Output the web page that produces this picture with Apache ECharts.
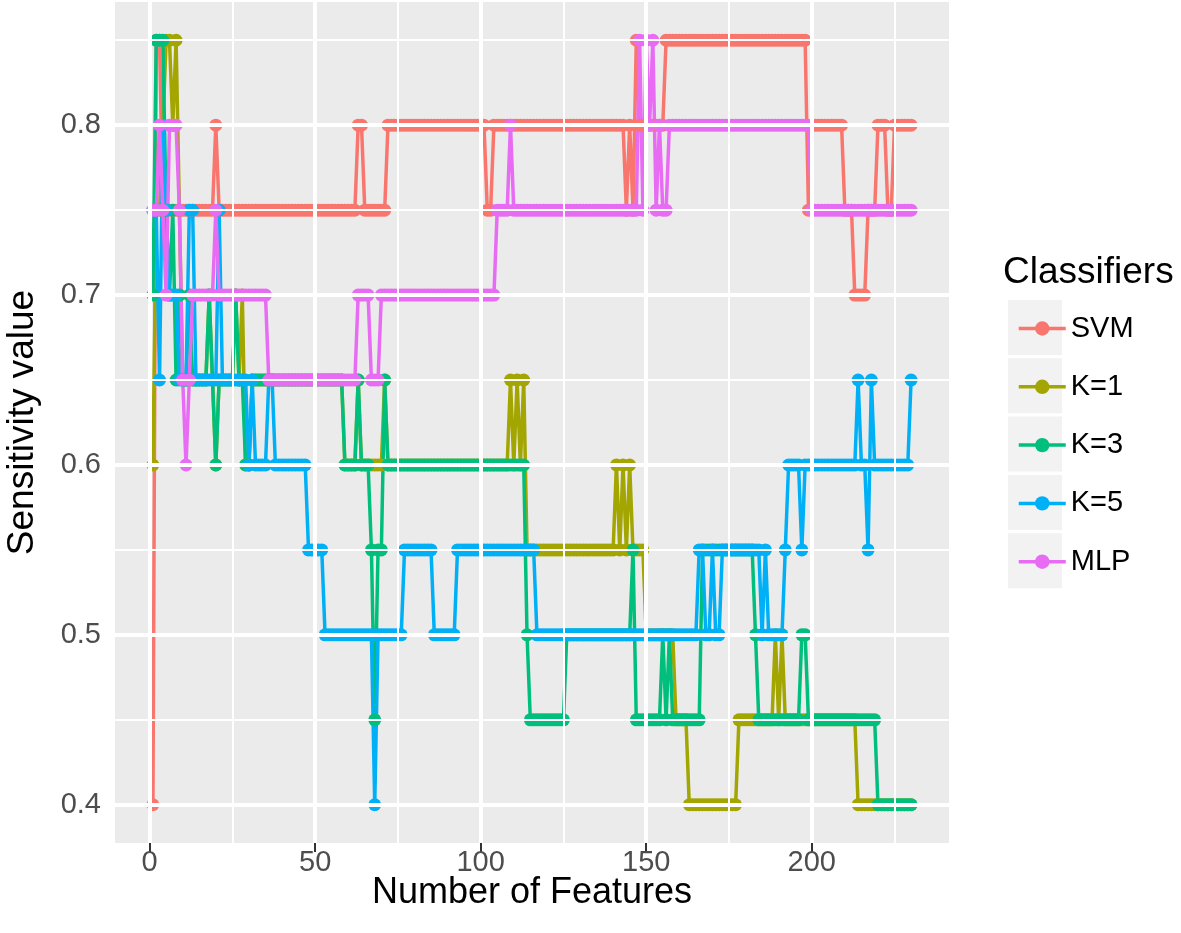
<!DOCTYPE html>
<html>
<head>
<meta charset="utf-8">
<script src="https://cdn.jsdelivr.net/npm/echarts@6/dist/echarts.min.js"></script>
<style>
html,body{margin:0;padding:0;background:#fff;}
#chart{width:1181px;height:933px;}
</style>
</head>
<body>
<div id="chart"></div>
<script>
// ---- data ----
const seriesNames = ['SVM', 'K=1', 'K=3', 'K=5', 'MLP'];
const seriesColors = ['#F8766D', '#A3A500', '#00BF7D', '#00B0F6', '#E76BF3'];
const xTicks = [0, 50, 100, 150, 200];
const yTicks = [0.4, 0.5, 0.6, 0.7, 0.8];
const xMinor = [25, 75, 125, 175, 225];
const yMinor = [0.45, 0.55, 0.65, 0.75, 0.85];

const svm = [
0.4,0.85,0.85,0.75,0.75,0.75,0.75,0.75,0.75,0.75,
0.75,0.75,0.75,0.75,0.75,0.75,0.75,0.75,0.75,0.8,
0.75,0.75,0.75,0.75,0.75,0.75,0.75,0.75,0.75,0.75,
0.75,0.75,0.75,0.75,0.75,0.75,0.75,0.75,0.75,0.75,
0.75,0.75,0.75,0.75,0.75,0.75,0.75,0.75,0.75,0.75,
0.75,0.75,0.75,0.75,0.75,0.75,0.75,0.75,0.75,0.75,
0.75,0.75,0.8,0.8,0.75,0.75,0.75,0.75,0.75,0.75,
0.75,0.8,0.8,0.8,0.8,0.8,0.8,0.8,0.8,0.8,
0.8,0.8,0.8,0.8,0.8,0.8,0.8,0.8,0.8,0.8,
0.8,0.8,0.8,0.8,0.8,0.8,0.8,0.8,0.8,0.8,
0.8,0.75,0.75,0.8,0.8,0.8,0.8,0.8,0.8,0.8,
0.8,0.8,0.8,0.8,0.8,0.8,0.8,0.8,0.8,0.8,
0.8,0.8,0.8,0.8,0.8,0.8,0.8,0.8,0.8,0.8,
0.8,0.8,0.8,0.8,0.8,0.8,0.8,0.8,0.8,0.8,
0.8,0.8,0.8,0.75,0.8,0.75,0.85,0.8,0.8,0.8,
0.8,0.8,0.8,0.8,0.8,0.85,0.85,0.85,0.85,0.85,
0.85,0.85,0.85,0.85,0.85,0.85,0.85,0.85,0.85,0.85,
0.85,0.85,0.85,0.85,0.85,0.85,0.85,0.85,0.85,0.85,
0.85,0.85,0.85,0.85,0.85,0.85,0.85,0.85,0.85,0.85,
0.85,0.85,0.85,0.85,0.85,0.85,0.85,0.85,0.75,0.8,
0.8,0.8,0.8,0.8,0.8,0.8,0.8,0.8,0.8,0.75,
0.75,0.75,0.7,0.7,0.7,0.7,0.75,0.75,0.75,0.8,
0.8,0.8,0.75,0.75,0.8,0.8,0.8,0.8,0.8,0.8
];

const k1 = [
0.6,0.75,0.75,0.8,0.85,0.85,0.8,0.85,0.75,0.65,
0.65,0.65,0.65,0.65,0.65,0.65,0.65,0.7,0.65,0.6,
0.65,0.65,0.65,0.65,0.65,0.7,0.65,0.7,0.6,0.6,
0.65,0.65,0.65,0.65,0.65,0.65,0.65,0.65,0.65,0.65,
0.65,0.65,0.65,0.65,0.65,0.65,0.65,0.65,0.65,0.65,
0.65,0.65,0.65,0.65,0.65,0.65,0.65,0.65,0.6,0.6,
0.6,0.6,0.65,0.6,0.6,0.6,0.6,0.6,0.6,0.6,
0.65,0.6,0.6,0.6,0.6,0.6,0.6,0.6,0.6,0.6,
0.6,0.6,0.6,0.6,0.6,0.6,0.6,0.6,0.6,0.6,
0.6,0.6,0.6,0.6,0.6,0.6,0.6,0.6,0.6,0.6,
0.6,0.6,0.6,0.6,0.6,0.6,0.6,0.6,0.65,0.6,
0.65,0.6,0.65,0.55,0.55,0.55,0.55,0.55,0.55,0.55,
0.55,0.55,0.55,0.55,0.55,0.55,0.55,0.55,0.55,0.55,
0.55,0.55,0.55,0.55,0.55,0.55,0.55,0.55,0.55,0.55,
0.6,0.55,0.6,0.55,0.6,0.55,0.55,0.55,0.55,0.5,
0.5,0.5,0.5,0.5,0.5,0.5,0.5,0.5,0.45,0.45,
0.45,0.45,0.4,0.4,0.4,0.4,0.4,0.4,0.4,0.4,
0.4,0.4,0.4,0.4,0.4,0.4,0.4,0.45,0.45,0.45,
0.45,0.45,0.45,0.45,0.45,0.45,0.45,0.45,0.5,0.45,
0.5,0.45,0.45,0.45,0.45,0.45,0.45,0.45,0.45,0.45,
0.45,0.45,0.45,0.45,0.45,0.45,0.45,0.45,0.45,0.45,
0.45,0.45,0.45,0.4,0.4,0.4,0.4,0.4,0.4,0.4,
0.4,0.4,0.4,0.4,0.4,0.4,0.4,0.4,0.4,0.4
];

const k3 = [
0.7,0.85,0.85,0.85,0.75,0.7,0.75,0.65,0.7,0.65,
0.65,0.7,0.65,0.65,0.65,0.65,0.65,0.7,0.65,0.6,
0.65,0.65,0.65,0.65,0.65,0.7,0.65,0.65,0.6,0.6,
0.65,0.65,0.65,0.65,0.65,0.65,0.65,0.65,0.65,0.65,
0.65,0.65,0.65,0.65,0.65,0.65,0.65,0.65,0.65,0.65,
0.65,0.65,0.65,0.65,0.65,0.65,0.65,0.65,0.6,0.6,
0.6,0.6,0.65,0.6,0.6,0.6,0.55,0.45,0.55,0.55,
0.65,0.6,0.6,0.6,0.6,0.6,0.6,0.6,0.6,0.6,
0.6,0.6,0.6,0.6,0.6,0.6,0.6,0.6,0.6,0.6,
0.6,0.6,0.6,0.6,0.6,0.6,0.6,0.6,0.6,0.6,
0.6,0.6,0.6,0.6,0.6,0.6,0.6,0.6,0.6,0.6,
0.6,0.6,0.6,0.5,0.45,0.45,0.45,0.45,0.45,0.45,
0.45,0.45,0.45,0.45,0.45,0.5,0.5,0.5,0.5,0.5,
0.5,0.5,0.5,0.5,0.5,0.5,0.5,0.5,0.5,0.5,
0.5,0.5,0.5,0.5,0.5,0.55,0.45,0.45,0.45,0.45,
0.45,0.45,0.45,0.45,0.5,0.45,0.5,0.45,0.45,0.45,
0.45,0.45,0.45,0.45,0.45,0.45,0.55,0.55,0.55,0.55,
0.55,0.55,0.55,0.55,0.55,0.55,0.55,0.55,0.55,0.55,
0.55,0.55,0.5,0.45,0.45,0.45,0.45,0.45,0.45,0.45,
0.45,0.45,0.45,0.45,0.45,0.45,0.5,0.5,0.45,0.45,
0.45,0.45,0.45,0.45,0.45,0.45,0.45,0.45,0.45,0.45,
0.45,0.45,0.45,0.45,0.45,0.45,0.45,0.45,0.45,0.4,
0.4,0.4,0.4,0.4,0.4,0.4,0.4,0.4,0.4,0.4
];

const k5 = [
0.75,0.75,0.65,0.8,0.75,0.7,0.7,0.7,0.65,0.65,
0.65,0.75,0.75,0.65,0.65,0.65,0.65,0.65,0.65,0.65,
0.75,0.65,0.65,0.65,0.65,0.65,0.65,0.65,0.65,0.6,
0.65,0.6,0.6,0.6,0.6,0.65,0.65,0.6,0.6,0.6,
0.6,0.6,0.6,0.6,0.6,0.6,0.6,0.55,0.55,0.55,
0.55,0.55,0.5,0.5,0.5,0.5,0.5,0.5,0.5,0.5,
0.5,0.5,0.5,0.5,0.5,0.5,0.5,0.4,0.5,0.5,
0.5,0.5,0.5,0.5,0.5,0.5,0.55,0.55,0.55,0.55,
0.55,0.55,0.55,0.55,0.55,0.5,0.5,0.5,0.5,0.5,
0.5,0.5,0.55,0.55,0.55,0.55,0.55,0.55,0.55,0.55,
0.55,0.55,0.55,0.55,0.55,0.55,0.55,0.55,0.55,0.55,
0.55,0.55,0.55,0.55,0.55,0.55,0.5,0.5,0.5,0.5,
0.5,0.5,0.5,0.5,0.5,0.5,0.5,0.5,0.5,0.5,
0.5,0.5,0.5,0.5,0.5,0.5,0.5,0.5,0.5,0.5,
0.5,0.5,0.5,0.5,0.5,0.5,0.5,0.5,0.5,0.5,
0.5,0.5,0.5,0.5,0.5,0.5,0.5,0.5,0.5,0.5,
0.5,0.5,0.5,0.5,0.5,0.55,0.55,0.5,0.5,0.55,
0.5,0.5,0.55,0.55,0.55,0.55,0.55,0.55,0.55,0.55,
0.55,0.55,0.55,0.55,0.5,0.55,0.5,0.5,0.5,0.5,
0.5,0.55,0.6,0.6,0.6,0.6,0.55,0.6,0.6,0.6,
0.6,0.6,0.6,0.6,0.6,0.6,0.6,0.6,0.6,0.6,
0.6,0.6,0.6,0.65,0.6,0.6,0.55,0.65,0.6,0.6,
0.6,0.6,0.6,0.6,0.6,0.6,0.6,0.6,0.6,0.65
];

const mlp = [
0.75,0.75,0.8,0.75,0.7,0.8,0.8,0.8,0.75,0.65,
0.6,0.65,0.7,0.7,0.7,0.7,0.7,0.7,0.7,0.75,
0.7,0.7,0.7,0.7,0.7,0.7,0.7,0.7,0.7,0.7,
0.7,0.7,0.7,0.7,0.7,0.65,0.65,0.65,0.65,0.65,
0.65,0.65,0.65,0.65,0.65,0.65,0.65,0.65,0.65,0.65,
0.65,0.65,0.65,0.65,0.65,0.65,0.65,0.65,0.65,0.65,
0.65,0.65,0.7,0.7,0.7,0.7,0.65,0.65,0.65,0.7,
0.7,0.7,0.7,0.7,0.7,0.7,0.7,0.7,0.7,0.7,
0.7,0.7,0.7,0.7,0.7,0.7,0.7,0.7,0.7,0.7,
0.7,0.7,0.7,0.7,0.7,0.7,0.7,0.7,0.7,0.7,
0.7,0.7,0.7,0.7,0.75,0.75,0.75,0.75,0.8,0.75,
0.75,0.75,0.75,0.75,0.75,0.75,0.75,0.75,0.75,0.75,
0.75,0.75,0.75,0.75,0.75,0.75,0.75,0.75,0.75,0.75,
0.75,0.75,0.75,0.75,0.75,0.75,0.75,0.75,0.75,0.75,
0.75,0.75,0.75,0.75,0.75,0.75,0.75,0.85,0.75,0.85,
0.8,0.85,0.75,0.8,0.75,0.75,0.8,0.8,0.8,0.8,
0.8,0.8,0.8,0.8,0.8,0.8,0.8,0.8,0.8,0.8,
0.8,0.8,0.8,0.8,0.8,0.8,0.8,0.8,0.8,0.8,
0.8,0.8,0.8,0.8,0.8,0.8,0.8,0.8,0.8,0.8,
0.8,0.8,0.8,0.8,0.8,0.8,0.8,0.8,0.8,0.75,
0.75,0.75,0.75,0.75,0.75,0.75,0.75,0.75,0.75,0.75,
0.75,0.75,0.75,0.75,0.75,0.75,0.75,0.75,0.75,0.75,
0.75,0.75,0.75,0.75,0.75,0.75,0.75,0.75,0.75,0.75
];

// number of features for each point (1..230)
const features = svm.map((_, i) => i + 1);
const allValues = [svm, k1, k3, k5, mlp];

// ---- chart ----
const FONT = "'Liberation Sans', Arial, Helvetica, sans-serif";
const chart = echarts.init(document.getElementById('chart'), null, {renderer: 'canvas'});

const gridLines = []
  .concat(xTicks.map(v => ({xAxis: v, lineStyle: {width: 4}})))
  .concat(xMinor.map(v => ({xAxis: v, lineStyle: {width: 2}})))
  .concat(yTicks.map(v => ({yAxis: v, lineStyle: {width: 4}})))
  .concat(yMinor.map(v => ({yAxis: v, lineStyle: {width: 2}})));

const dataSeries = seriesNames.map((name, i) => ({
  name: name,
  type: 'line',
  data: features.map((x, j) => [x, allValues[i][j]]),
  symbol: 'circle',
  symbolSize: 13,
  showSymbol: true,
  lineStyle: {width: 3.5, color: seriesColors[i]},
  itemStyle: {color: seriesColors[i]},
  emphasis: {disabled: true},
  z: 3,
  animation: false
}));

const legendTop = 300, legendPitch = 58.3;
const keyBoxes = seriesNames.map((n, i) => ({
  type: 'rect',
  shape: {x: 1008, y: legendTop + i * legendPitch, width: 54, height: 55},
  style: {fill: '#F2F2F2'},
  z: -1, silent: true
}));

chart.setOption({
  animation: false,
  backgroundColor: '#FFFFFF',
  grid: {
    left: 115, top: 2, width: 834, height: 841,
    outerBoundsMode: 'none', containLabel: false,
    show: true, backgroundColor: '#EBEBEB', borderWidth: 0
  },
  xAxis: {
    type: 'value', min: -10.45, max: 241.45,
    name: 'Number of Features', nameLocation: 'middle', nameGap: 32, nameMoveOverlap: false,
    nameTextStyle: {fontSize: 36, color: '#000', fontFamily: FONT},
    axisLine: {show: false},
    axisTick: {show: true, customValues: xTicks, length: 9, lineStyle: {color: '#333', width: 2}},
    axisLabel: {customValues: xTicks, color: '#4D4D4D', fontSize: 29, fontFamily: FONT, margin: 5},
    splitLine: {show: false}
  },
  yAxis: {
    type: 'value', min: 0.3775, max: 0.8725,
    name: 'Sensitivity value', nameLocation: 'middle', nameGap: 74, nameRotate: 90, nameMoveOverlap: false,
    nameTextStyle: {fontSize: 37, color: '#000', fontFamily: FONT},
    axisLine: {show: false},
    axisTick: {show: true, customValues: yTicks, length: 9, lineStyle: {color: '#333', width: 2}},
    axisLabel: {customValues: yTicks, color: '#4D4D4D', fontSize: 29, fontFamily: FONT, margin: 14,
      formatter: v => v.toFixed(1)},
    splitLine: {show: false}
  },
  legend: {
    data: seriesNames,
    orient: 'vertical',
    left: 1012, top: 309,
    itemWidth: 47, itemHeight: 18, itemGap: 29.3,
    lineStyle: {width: 3.5},
    textStyle: {fontSize: 29, color: '#000', fontFamily: FONT},
    selectedMode: false
  },
  graphic: keyBoxes.concat([{
    type: 'text', left: 1003, top: 254,
    style: {text: 'Classifiers', fontSize: 37, fill: '#000', font: '37px ' + FONT}
  }]),
  series: [{
    type: 'line', data: [], z: 1, silent: true, animation: false,
    markLine: {
      silent: true, symbol: ['none', 'none'], animation: false,
      label: {show: false},
      lineStyle: {color: '#FFFFFF', type: 'solid'},
      emphasis: {disabled: true},
      data: gridLines
    }
  }].concat(dataSeries)
});
</script>
</body>
</html>
